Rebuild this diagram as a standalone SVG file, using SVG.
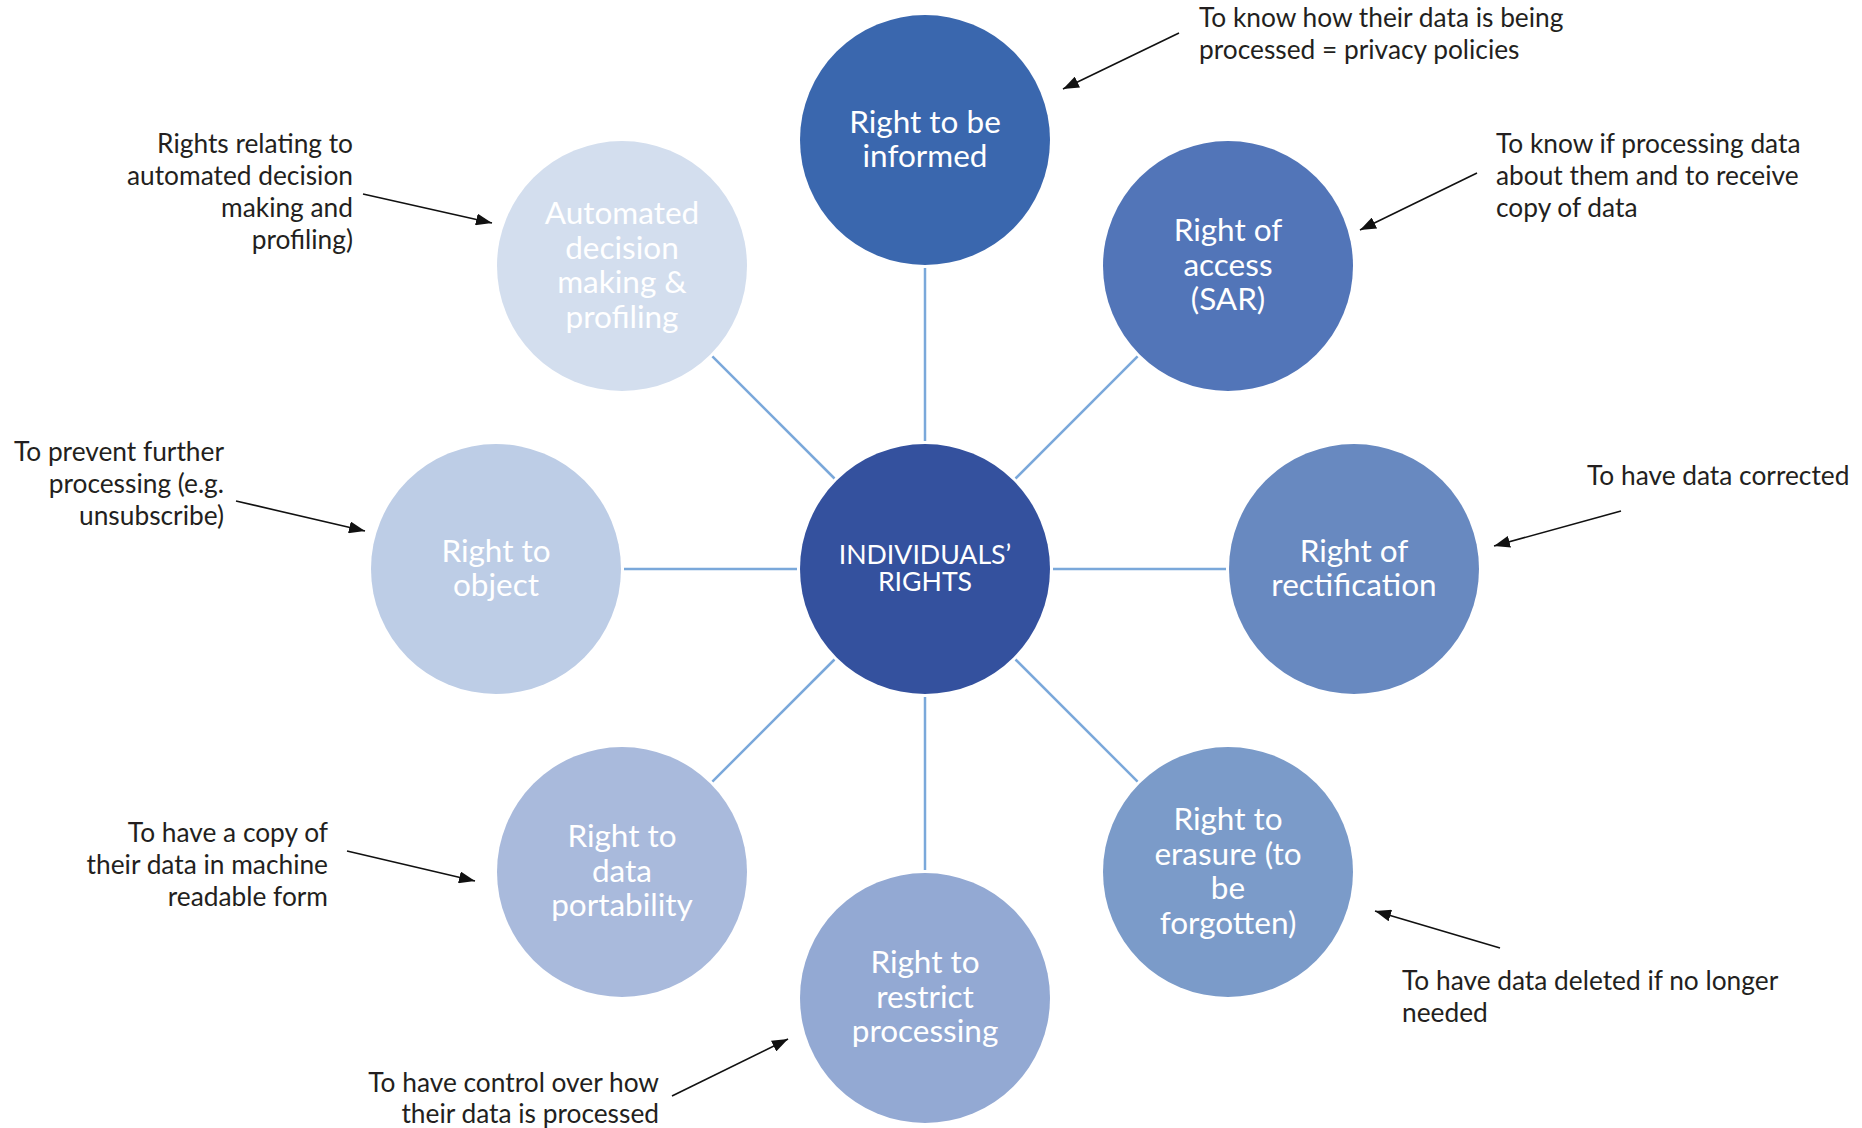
<svg xmlns="http://www.w3.org/2000/svg" width="1862" height="1128" viewBox="0 0 1862 1128">
<style>
.node text{font-family:Lato,"Open Sans","Liberation Sans",sans-serif;fill:#ffffff;font-size:31.5px;text-anchor:middle}
.center text{font-size:26.7px}
.note{font-family:Lato,"Open Sans","Liberation Sans",sans-serif;fill:#231f20;font-size:26.3px}
.r{text-anchor:end}
.link{stroke:#7aa8da;stroke-width:2.5;fill:none}
.arr{stroke:#111;stroke-width:1.6;fill:none;marker-end:url(#ah)}
</style>
<defs>
<marker id="ah" viewBox="0 0 16 12" refX="16" refY="6" markerWidth="16" markerHeight="12" orient="auto" markerUnits="userSpaceOnUse"><path d="M0,0 L16,6 L0,12 z" fill="#111"/></marker>
</defs>
<rect width="1862" height="1128" fill="#ffffff"/>
<g id="connectors">
<line class="link" x1="925" y1="441" x2="925" y2="268"/>
<line class="link" x1="925" y1="697" x2="925" y2="870"/>
<line class="link" x1="797" y1="569" x2="624" y2="569"/>
<line class="link" x1="1053" y1="569" x2="1226" y2="569"/>
<line class="link" x1="1015.5" y1="478.5" x2="1137.6" y2="356.4"/>
<line class="link" x1="834.5" y1="478.5" x2="712.4" y2="356.4"/>
<line class="link" x1="1015.5" y1="659.5" x2="1137.6" y2="781.6"/>
<line class="link" x1="834.5" y1="659.5" x2="712.4" y2="781.6"/>
</g>
<g id="center" class="node center">
<circle cx="925" cy="569" r="125" fill="#34519e"/>
<text x="925" y="564">INDIVIDUALS’</text>
<text x="925" y="591">RIGHTS</text>
</g>
<g id="informed" class="node">
<circle cx="925" cy="140" r="125" fill="#3a67ae"/>
<text x="925" y="133">Right to be</text>
<text x="925" y="167">informed</text>
</g>
<g id="access" class="node">
<circle cx="1228" cy="266" r="125" fill="#5275b8"/>
<text x="1228" y="241">Right of</text>
<text x="1228" y="276">access</text>
<text x="1228" y="310">(SAR)</text>
</g>
<g id="rectification" class="node">
<circle cx="1354" cy="569" r="125" fill="#6889c0"/>
<text x="1354" y="562">Right of</text>
<text x="1354" y="596">rectification</text>
</g>
<g id="erasure" class="node">
<circle cx="1228" cy="872" r="125" fill="#7b9bc9"/>
<text x="1228" y="830">Right to</text>
<text x="1228" y="865">erasure (to</text>
<text x="1228" y="899">be</text>
<text x="1228" y="934">forgotten)</text>
</g>
<g id="restrict" class="node">
<circle cx="925" cy="998" r="125" fill="#93a9d3"/>
<text x="925" y="973">Right to</text>
<text x="925" y="1008">restrict</text>
<text x="925" y="1042">processing</text>
</g>
<g id="portability" class="node">
<circle cx="622" cy="872" r="125" fill="#a9badc"/>
<text x="622" y="847">Right to</text>
<text x="622" y="882">data</text>
<text x="622" y="916">portability</text>
</g>
<g id="object" class="node">
<circle cx="496" cy="569" r="125" fill="#bdcde6"/>
<text x="496" y="562">Right to</text>
<text x="496" y="596">object</text>
</g>
<g id="automated" class="node">
<circle cx="622" cy="266" r="125" fill="#d3deee"/>
<text x="622" y="224">Automated</text>
<text x="622" y="259">decision</text>
<text x="622" y="293">making &amp;</text>
<text x="622" y="328">profiling</text>
</g>
<g id="notes">
<text class="note" x="1199" y="27">To know how their data is being</text>
<text class="note" x="1199" y="59">processed = privacy policies</text>
<line class="arr" x1="1179" y1="33" x2="1063" y2="89"/>
<text class="note" x="1496" y="153">To know if processing data</text>
<text class="note" x="1496" y="185">about them and to receive</text>
<text class="note" x="1496" y="217">copy of data</text>
<line class="arr" x1="1477" y1="173" x2="1360" y2="230"/>
<text class="note" x="1587" y="485">To have data corrected</text>
<line class="arr" x1="1621" y1="511" x2="1494" y2="546"/>
<text class="note" x="1402" y="990">To have data deleted if no longer</text>
<text class="note" x="1402" y="1022">needed</text>
<line class="arr" x1="1500" y1="948" x2="1375" y2="911"/>
<text class="note r" x="659" y="1092">To have control over how</text>
<text class="note r" x="659" y="1123">their data is processed</text>
<line class="arr" x1="672" y1="1096" x2="788" y2="1039"/>
<text class="note r" x="328" y="842">To have a copy of</text>
<text class="note r" x="328" y="874">their data in machine</text>
<text class="note r" x="328" y="906">readable form</text>
<line class="arr" x1="347" y1="851" x2="475" y2="881"/>
<text class="note r" x="224" y="461">To prevent further</text>
<text class="note r" x="224" y="493">processing (e.g.</text>
<text class="note r" x="224" y="525">unsubscribe)</text>
<line class="arr" x1="236" y1="501" x2="365" y2="531"/>
<text class="note r" x="353" y="153">Rights relating to</text>
<text class="note r" x="353" y="185">automated decision</text>
<text class="note r" x="353" y="217">making and</text>
<text class="note r" x="353" y="249">profiling)</text>
<line class="arr" x1="363" y1="194" x2="492" y2="223"/>
</g>
</svg>
